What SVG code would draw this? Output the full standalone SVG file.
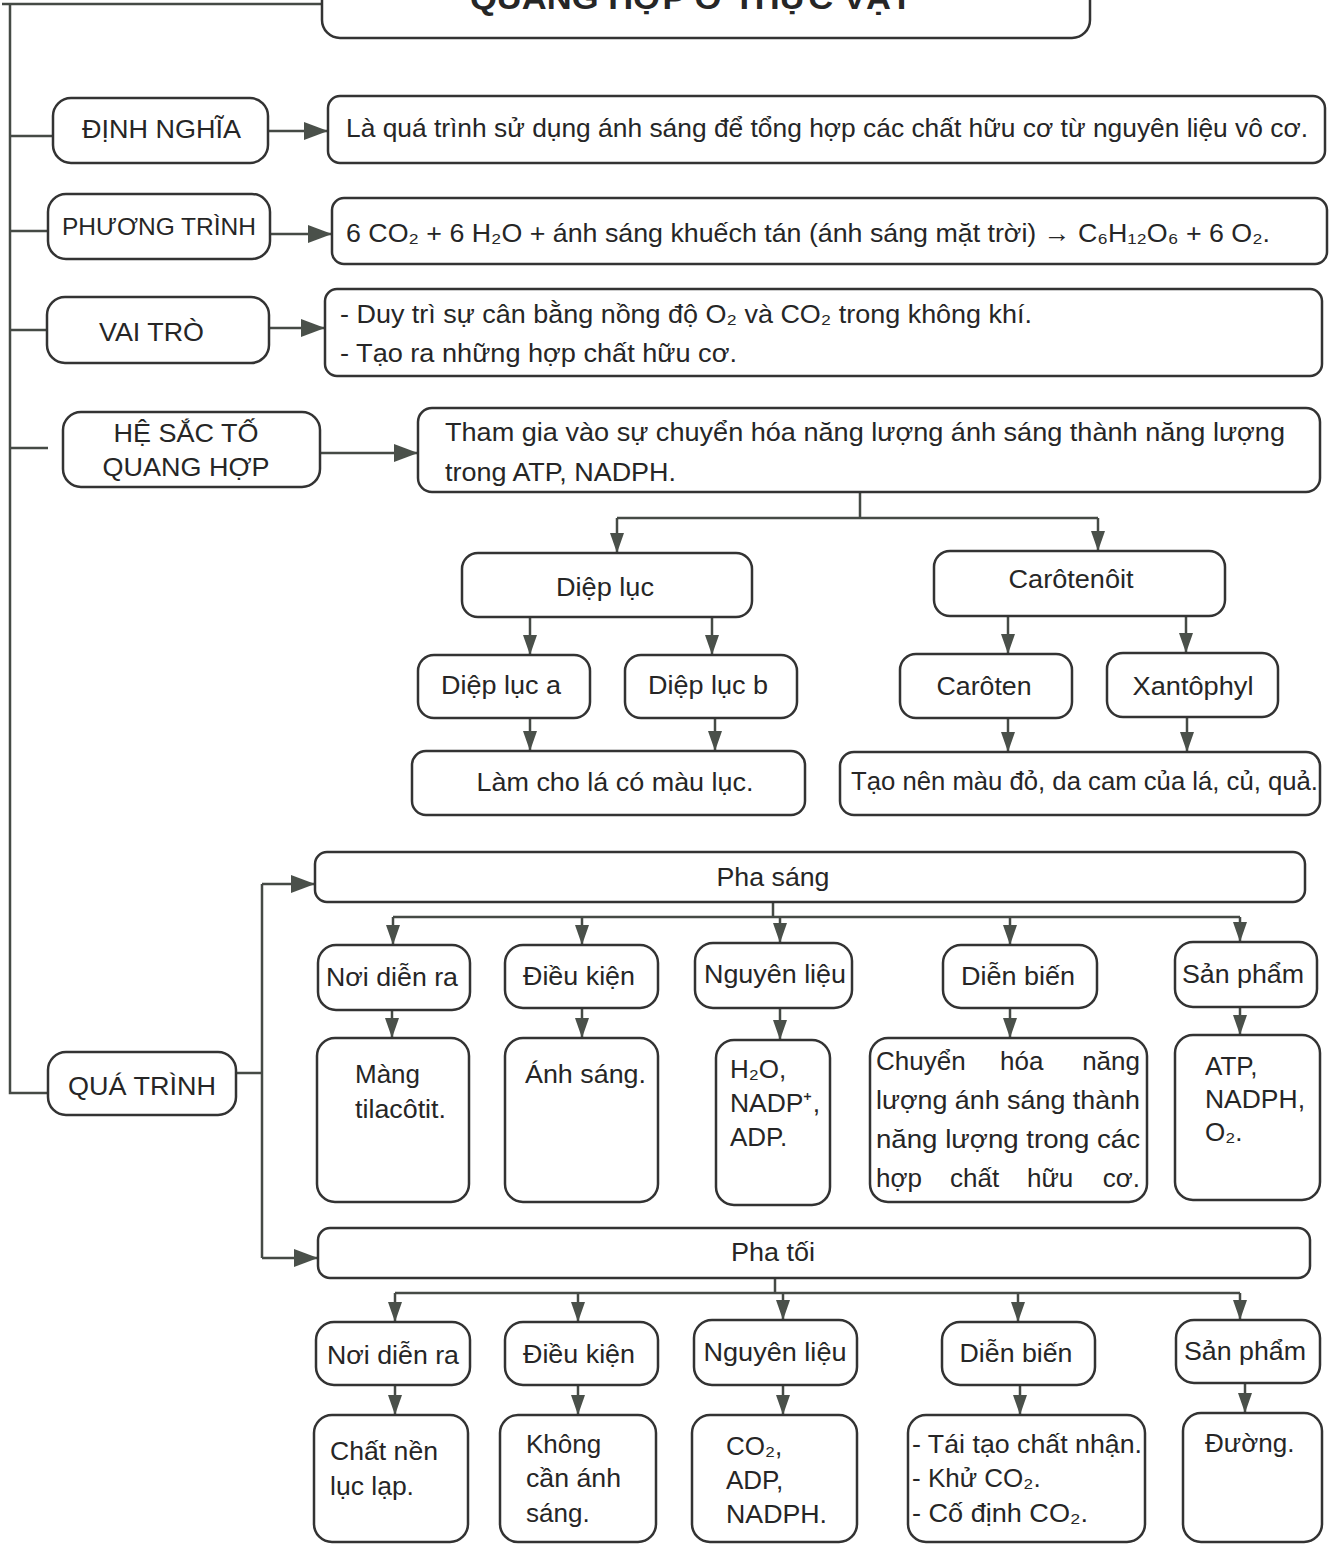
<svg xmlns="http://www.w3.org/2000/svg" width="1337" height="1545" viewBox="0 0 1337 1545">
  <style>
    text { font-family: "Liberation Sans", Arial, sans-serif; font-size: 26px; fill: #262626; }
    .c { text-anchor: middle; }
    .e { text-anchor: end; }
    .t { font-weight: bold; font-size: 32px; }
    .box { fill: #ffffff; stroke: #333333; stroke-width: 2.5; }
    .ln { fill: none; stroke: #454a45; stroke-width: 2.5; }
    .ar { fill: none; stroke: #454a45; stroke-width: 2.5; marker-end: url(#ah); }
    .arL { fill: none; stroke: #454a45; stroke-width: 2.5; marker-end: url(#ahL); }
  </style>
  <defs>
    <marker id="ah" markerUnits="userSpaceOnUse" markerWidth="20" markerHeight="14" refX="20" refY="7" orient="auto" viewBox="0 0 20 14">
      <path d="M0,0 L20,7 L0,14 z" fill="#4a504a"/>
    </marker>
    <marker id="ahL" markerUnits="userSpaceOnUse" markerWidth="24" markerHeight="18" refX="24" refY="9" orient="auto" viewBox="0 0 24 18">
      <path d="M0,0 L24,9 L0,18 z" fill="#4a504a"/>
    </marker>
  </defs>
  <rect width="1337" height="1545" fill="#ffffff"/>

  <!-- connectors -->
  <g id="connectors">
    <!-- main trunk on the left -->
    <path class="ln" d="M2,4 H322"/>
    <path class="ln" d="M10,4 V1093 H48"/>
    <path class="ln" d="M10,136 H53"/>
    <path class="ln" d="M10,231 H48"/>
    <path class="ln" d="M10,330 H47"/>
    <path class="ln" d="M10,448 H48"/>
    <!-- topic arrows -->
    <path class="arL" d="M268,131 H328"/>
    <path class="arL" d="M270,234 H332"/>
    <path class="arL" d="M269,328 H325"/>
    <path class="arL" d="M320,453 H418"/>
    <!-- pigments -->
    <path class="ln" d="M860,492 V518 M617,518 H1098"/>
    <path class="ar" d="M617,518 V553"/>
    <path class="ar" d="M1098,518 V551"/>
    <path class="ar" d="M530,617 V655"/>
    <path class="ar" d="M712,617 V655"/>
    <path class="ar" d="M1008,616 V654"/>
    <path class="ar" d="M1186,616 V653"/>
    <path class="ar" d="M530,718 V751"/>
    <path class="ar" d="M715,718 V751"/>
    <path class="ar" d="M1008,718 V752"/>
    <path class="ar" d="M1187,717 V752"/>
    <!-- process branches -->
    <path class="ln" d="M236,1073 H262 M262,884 V1258"/>
    <path class="arL" d="M262,884 H315"/>
    <path class="arL" d="M262,1258 H318"/>
    <!-- light phase -->
    <path class="ln" d="M773,902 V917 M393,917 H1240"/>
    <path class="ar" d="M393,917 V945"/>
    <path class="ar" d="M582,917 V945"/>
    <path class="ar" d="M780,917 V943"/>
    <path class="ar" d="M1010,917 V945"/>
    <path class="ar" d="M1240,917 V942"/>
    <path class="ar" d="M392,1010 V1038"/>
    <path class="ar" d="M582,1008 V1038"/>
    <path class="ar" d="M780,1008 V1040"/>
    <path class="ar" d="M1010,1008 V1038"/>
    <path class="ar" d="M1240,1007 V1035"/>
    <!-- dark phase -->
    <path class="ln" d="M775,1278 V1293 M395,1293 H1240"/>
    <path class="ar" d="M395,1293 V1322"/>
    <path class="ar" d="M578,1293 V1322"/>
    <path class="ar" d="M783,1293 V1320"/>
    <path class="ar" d="M1018,1293 V1322"/>
    <path class="ar" d="M1240,1293 V1320"/>
    <path class="ar" d="M395,1385 V1415"/>
    <path class="ar" d="M578,1385 V1415"/>
    <path class="ar" d="M783,1385 V1415"/>
    <path class="ar" d="M1020,1385 V1415"/>
    <path class="ar" d="M1245,1383 V1413"/>
  </g>

  <!-- title -->
  <g id="title">
    <rect class="box" x="322" y="-30" width="768" height="68" rx="18"/>
    <text class="t c" x="691" y="9" textLength="442" lengthAdjust="spacingAndGlyphs">QUANG HỢP Ở THỰC VẬT</text>
  </g>

  <!-- definition -->
  <g id="dinh-nghia">
    <rect class="box" x="53" y="98" width="215" height="65" rx="18"/>
    <text x="82" y="138" textLength="159" lengthAdjust="spacingAndGlyphs">ĐỊNH NGHĨA</text>
  </g>
  <g id="dinh-nghia-nd">
    <rect class="box" x="328" y="96" width="997" height="67" rx="12"/>
    <text x="346" y="137" textLength="962" lengthAdjust="spacingAndGlyphs">Là quá trình sử dụng ánh sáng để tổng hợp các chất hữu cơ từ nguyên liệu vô cơ.</text>
  </g>

  <!-- equation -->
  <g id="phuong-trinh">
    <rect class="box" x="48" y="194" width="222" height="65" rx="18"/>
    <text x="62" y="235" textLength="194" lengthAdjust="spacingAndGlyphs" style="font-size:24px">PHƯƠNG TRÌNH</text>
  </g>
  <g id="phuong-trinh-nd">
    <rect class="box" x="332" y="198" width="995" height="66" rx="12"/>
    <text x="346" y="242" textLength="924" lengthAdjust="spacingAndGlyphs">6 CO₂ + 6 H₂O + ánh sáng khuếch tán (ánh sáng mặt trời) → C₆H₁₂O₆ + 6 O₂.</text>
  </g>

  <!-- roles -->
  <g id="vai-tro">
    <rect class="box" x="47" y="297" width="222" height="66" rx="18"/>
    <text x="99" y="341" textLength="105" lengthAdjust="spacingAndGlyphs">VAI TRÒ</text>
  </g>
  <g id="vai-tro-nd">
    <rect class="box" x="325" y="289" width="997" height="87" rx="12"/>
    <text x="340" y="323" textLength="692" lengthAdjust="spacingAndGlyphs">- Duy trì sự cân bằng nồng độ O₂ và CO₂ trong không khí.</text>
    <text x="340" y="362" textLength="397" lengthAdjust="spacingAndGlyphs">- Tạo ra những hợp chất hữu cơ.</text>
  </g>

  <!-- pigments -->
  <g id="he-sac-to">
    <rect class="box" x="63" y="412" width="257" height="75" rx="18"/>
    <text class="c" x="186" y="442" textLength="145" lengthAdjust="spacingAndGlyphs">HỆ SẮC TỐ</text>
    <text class="c" x="186" y="476" textLength="167" lengthAdjust="spacingAndGlyphs">QUANG HỢP</text>
  </g>
  <g id="he-sac-to-nd">
    <rect class="box" x="418" y="408" width="902" height="84" rx="14"/>
    <text x="445" y="441" textLength="840" lengthAdjust="spacingAndGlyphs">Tham gia vào sự chuyển hóa năng lượng ánh sáng thành năng lượng</text>
    <text x="445" y="481" textLength="231" lengthAdjust="spacingAndGlyphs">trong ATP, NADPH.</text>
  </g>
  <g id="diep-luc">
    <rect class="box" x="462" y="553" width="290" height="64" rx="16"/>
    <text class="c" x="605" y="596" textLength="98" lengthAdjust="spacingAndGlyphs">Diệp lục</text>
  </g>
  <g id="carotenoit">
    <rect class="box" x="934" y="551" width="291" height="65" rx="16"/>
    <text class="c" x="1071" y="588" textLength="125" lengthAdjust="spacingAndGlyphs">Carôtenôit</text>
  </g>
  <g id="diep-luc-a">
    <rect class="box" x="418" y="655" width="172" height="63" rx="16"/>
    <text class="c" x="501" y="694" textLength="120" lengthAdjust="spacingAndGlyphs">Diệp lục a</text>
  </g>
  <g id="diep-luc-b">
    <rect class="box" x="625" y="655" width="172" height="63" rx="16"/>
    <text class="c" x="708" y="694" textLength="120" lengthAdjust="spacingAndGlyphs">Diệp lục b</text>
  </g>
  <g id="caroten">
    <rect class="box" x="900" y="654" width="172" height="64" rx="16"/>
    <text class="c" x="984" y="695" textLength="95" lengthAdjust="spacingAndGlyphs">Carôten</text>
  </g>
  <g id="xantophyl">
    <rect class="box" x="1107" y="653" width="171" height="64" rx="16"/>
    <text class="c" x="1193" y="695" textLength="121" lengthAdjust="spacingAndGlyphs">Xantôphyl</text>
  </g>
  <g id="mau-luc">
    <rect class="box" x="412" y="751" width="393" height="64" rx="14"/>
    <text class="c" x="615" y="791" textLength="277" lengthAdjust="spacingAndGlyphs">Làm cho lá có màu lục.</text>
  </g>
  <g id="mau-do">
    <rect class="box" x="840" y="752" width="480" height="63" rx="14"/>
    <text x="851" y="790" textLength="467" lengthAdjust="spacingAndGlyphs">Tạo nên màu đỏ, da cam của lá, củ, quả.</text>
  </g>

  <!-- process -->
  <g id="qua-trinh">
    <rect class="box" x="48" y="1052" width="188" height="63" rx="18"/>
    <text x="68" y="1095" textLength="148" lengthAdjust="spacingAndGlyphs">QUÁ TRÌNH</text>
  </g>

  <!-- light phase -->
  <g id="pha-sang">
    <rect class="box" x="315" y="852" width="990" height="50" rx="12"/>
    <text class="c" x="773" y="886" textLength="113" lengthAdjust="spacingAndGlyphs">Pha sáng</text>
  </g>
  <g id="ps-noi">
    <rect class="box" x="318" y="945" width="152" height="65" rx="18"/>
    <text class="c" x="392" y="986" textLength="132" lengthAdjust="spacingAndGlyphs">Nơi diễn ra</text>
  </g>
  <g id="ps-dieu-kien">
    <rect class="box" x="505" y="945" width="153" height="63" rx="18"/>
    <text class="c" x="579" y="985" textLength="112" lengthAdjust="spacingAndGlyphs">Điều kiện</text>
  </g>
  <g id="ps-nguyen-lieu">
    <rect class="box" x="695" y="943" width="157" height="65" rx="18"/>
    <text class="c" x="775" y="983" textLength="142" lengthAdjust="spacingAndGlyphs">Nguyên liệu</text>
  </g>
  <g id="ps-dien-bien">
    <rect class="box" x="943" y="945" width="154" height="63" rx="18"/>
    <text class="c" x="1018" y="985" textLength="114" lengthAdjust="spacingAndGlyphs">Diễn biến</text>
  </g>
  <g id="ps-san-pham">
    <rect class="box" x="1175" y="942" width="142" height="65" rx="18"/>
    <text class="c" x="1243" y="983" textLength="122" lengthAdjust="spacingAndGlyphs">Sản phẩm</text>
  </g>
  <g id="ps-noi-nd">
    <rect class="box" x="317" y="1038" width="152" height="164" rx="18"/>
    <text x="355" y="1083">Màng</text>
    <text x="355" y="1118" textLength="91" lengthAdjust="spacingAndGlyphs">tilacôtit.</text>
  </g>
  <g id="ps-dieu-kien-nd">
    <rect class="box" x="505" y="1038" width="153" height="164" rx="18"/>
    <text x="525" y="1083" textLength="121" lengthAdjust="spacingAndGlyphs">Ánh sáng.</text>
  </g>
  <g id="ps-nguyen-lieu-nd">
    <rect class="box" x="716" y="1040" width="114" height="165" rx="18"/>
    <text x="730" y="1078">H₂O,</text>
    <text x="730" y="1112" textLength="90" lengthAdjust="spacingAndGlyphs">NADP⁺,</text>
    <text x="730" y="1146">ADP.</text>
  </g>
  <g id="ps-dien-bien-nd">
    <rect class="box" x="870" y="1038" width="277" height="164" rx="18"/>
    <text x="876" y="1070">Chuyển</text>
    <text x="1000" y="1070">hóa</text>
    <text class="e" x="1140" y="1070">năng</text>
    <text x="876" y="1109" textLength="264" lengthAdjust="spacingAndGlyphs">lượng ánh sáng thành</text>
    <text x="876" y="1148" textLength="264" lengthAdjust="spacingAndGlyphs">năng lượng trong các</text>
    <text x="876" y="1187">hợp</text>
    <text x="950" y="1187">chất</text>
    <text x="1027" y="1187">hữu</text>
    <text class="e" x="1140" y="1187">cơ.</text>
  </g>
  <g id="ps-san-pham-nd">
    <rect class="box" x="1175" y="1035" width="145" height="165" rx="18"/>
    <text x="1205" y="1075">ATP,</text>
    <text x="1205" y="1108" textLength="100" lengthAdjust="spacingAndGlyphs">NADPH,</text>
    <text x="1205" y="1141">O₂.</text>
  </g>

  <!-- dark phase -->
  <g id="pha-toi">
    <rect class="box" x="318" y="1228" width="992" height="50" rx="12"/>
    <text class="c" x="773" y="1261" textLength="84" lengthAdjust="spacingAndGlyphs">Pha tối</text>
  </g>
  <g id="pt-noi">
    <rect class="box" x="316" y="1322" width="154" height="63" rx="18"/>
    <text class="c" x="393" y="1364" textLength="132" lengthAdjust="spacingAndGlyphs">Nơi diễn ra</text>
  </g>
  <g id="pt-dieu-kien">
    <rect class="box" x="505" y="1322" width="153" height="63" rx="18"/>
    <text class="c" x="579" y="1363" textLength="112" lengthAdjust="spacingAndGlyphs">Điều kiện</text>
  </g>
  <g id="pt-nguyen-lieu">
    <rect class="box" x="694" y="1320" width="163" height="65" rx="18"/>
    <text class="c" x="775" y="1361" textLength="143" lengthAdjust="spacingAndGlyphs">Nguyên liệu</text>
  </g>
  <g id="pt-dien-bien">
    <rect class="box" x="942" y="1322" width="153" height="63" rx="18"/>
    <text class="c" x="1016" y="1362" textLength="113" lengthAdjust="spacingAndGlyphs">Diễn biến</text>
  </g>
  <g id="pt-san-pham">
    <rect class="box" x="1176" y="1320" width="144" height="63" rx="18"/>
    <text class="c" x="1245" y="1360" textLength="122" lengthAdjust="spacingAndGlyphs">Sản phẩm</text>
  </g>
  <g id="pt-noi-nd">
    <rect class="box" x="314" y="1415" width="154" height="127" rx="18"/>
    <text x="330" y="1460" textLength="108" lengthAdjust="spacingAndGlyphs">Chất nền</text>
    <text x="330" y="1495" textLength="84" lengthAdjust="spacingAndGlyphs">lục lạp.</text>
  </g>
  <g id="pt-dieu-kien-nd">
    <rect class="box" x="500" y="1415" width="156" height="127" rx="18"/>
    <text x="526" y="1453">Không</text>
    <text x="526" y="1487" textLength="95" lengthAdjust="spacingAndGlyphs">cần ánh</text>
    <text x="526" y="1522">sáng.</text>
  </g>
  <g id="pt-nguyen-lieu-nd">
    <rect class="box" x="692" y="1415" width="165" height="127" rx="18"/>
    <text x="726" y="1455">CO₂,</text>
    <text x="726" y="1489">ADP,</text>
    <text x="726" y="1523" textLength="101" lengthAdjust="spacingAndGlyphs">NADPH.</text>
  </g>
  <g id="pt-dien-bien-nd">
    <rect class="box" x="908" y="1415" width="237" height="127" rx="18"/>
    <text x="912" y="1453" textLength="230" lengthAdjust="spacingAndGlyphs">- Tái tạo chất nhận.</text>
    <text x="912" y="1487">- Khử CO₂.</text>
    <text x="912" y="1522" textLength="176" lengthAdjust="spacingAndGlyphs">- Cố định CO₂.</text>
  </g>
  <g id="pt-san-pham-nd">
    <rect class="box" x="1183" y="1413" width="139" height="129" rx="18"/>
    <text x="1205" y="1452">Đường.</text>
  </g>
</svg>
